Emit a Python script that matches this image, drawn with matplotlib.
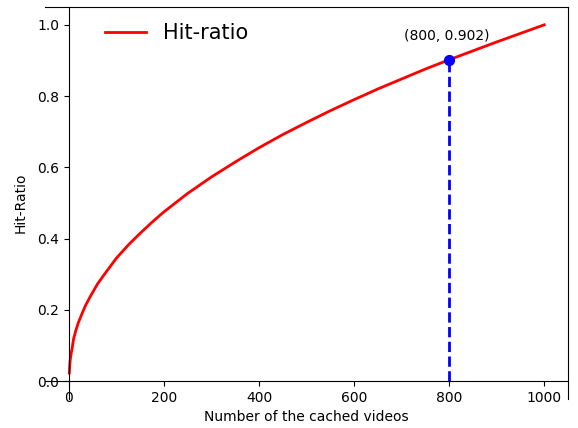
import matplotlib
matplotlib.use("Agg")
import matplotlib.pyplot as plt

# values
cached = [1, 2, 3, 5, 7, 10, 15, 20, 28, 35, 45, 60, 75, 100, 125, 150, 175, 200, 250, 300,
          350, 400, 450, 500, 550, 600, 650, 700, 750, 800, 850, 900, 950, 1000]
hit = [0.023, 0.045, 0.06, 0.078, 0.092, 0.118, 0.143, 0.164, 0.19, 0.212, 0.237, 0.272, 0.30,
       0.345, 0.382, 0.415, 0.446, 0.475, 0.527, 0.573, 0.615, 0.655, 0.692, 0.726, 0.759,
       0.790, 0.820, 0.848, 0.876, 0.902, 0.927, 0.952, 0.976, 1.0]
mark_x = 800
mark_y = 0.902

fig = plt.figure(figsize=(5.78, 4.28), dpi=100)
ax = fig.add_axes([0.0779, 0.0678, 0.9048, 0.9158])

ax.plot(cached, hit, color="red", linewidth=2, label="Hit-ratio")
ax.vlines(mark_x, 0, mark_y, colors="blue", linestyles="dashed", linewidth=2)
ax.scatter([mark_x], [mark_y], color="blue", s=50, zorder=3)
ax.annotate("(%d, %.3f)" % (mark_x, mark_y), (mark_x, mark_y), xytext=(-2, 14),
            textcoords="offset points", ha="center", fontsize=10)

ax.spines["left"].set_position(("data", 0))
ax.spines["bottom"].set_position(("data", 0))
ax.set_xlim(-50, 1050)
ax.set_ylim(-0.05, 1.05)

ax.set_xlabel("Number of the cached videos")
ax.set_ylabel("Hit-Ratio")
ax.xaxis.set_label_coords(0.5, -0.028)
ax.yaxis.set_label_coords(-0.033, 0.5)
ax.legend(loc="upper left", fontsize=15, frameon=False, bbox_to_anchor=(0.078, 1.006))

fig.savefig("out.png", dpi=100)
